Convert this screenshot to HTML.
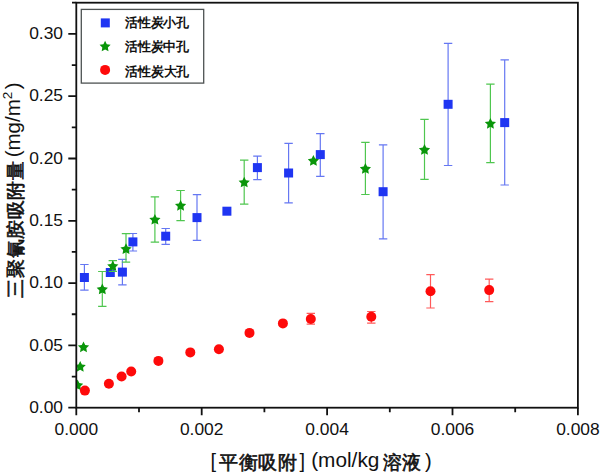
<!DOCTYPE html>
<html><head><meta charset="utf-8"><style>
html,body{margin:0;padding:0;background:#fff;}
svg{display:block;}
text{font-family:"Liberation Sans",sans-serif;}
</style></head><body>
<svg width="600" height="473" viewBox="0 0 600 473">
<rect width="600" height="473" fill="#fff"/>
<defs><clipPath id="pc"><rect x="76.3" y="2.7" width="501.60" height="405.00"/></clipPath></defs>
<g clip-path="url(#pc)">
<path d="M84.4,264.5V290.2M80.2,264.5H88.60000000000001M80.2,290.2H88.60000000000001" stroke="#6577f2" stroke-width="1.2" fill="none"/>
<rect x="79.90" y="273.00" width="9" height="9" fill="#1f35f2"/>
<rect x="105.80" y="268.00" width="9" height="9" fill="#1f35f2"/>
<path d="M122.4,259.4V284.8M118.2,259.4H126.60000000000001M118.2,284.8H126.60000000000001" stroke="#6577f2" stroke-width="1.2" fill="none"/>
<rect x="117.90" y="267.60" width="9" height="9" fill="#1f35f2"/>
<path d="M132.9,233.5V251.0M128.70000000000002,233.5H137.1M128.70000000000002,251.0H137.1" stroke="#6577f2" stroke-width="1.2" fill="none"/>
<rect x="128.40" y="237.40" width="9" height="9" fill="#1f35f2"/>
<path d="M165.7,228.5V244.3M161.5,228.5H169.89999999999998M161.5,244.3H169.89999999999998" stroke="#6577f2" stroke-width="1.2" fill="none"/>
<rect x="161.20" y="231.70" width="9" height="9" fill="#1f35f2"/>
<path d="M197.0,194.7V240.4M192.8,194.7H201.2M192.8,240.4H201.2" stroke="#6577f2" stroke-width="1.2" fill="none"/>
<rect x="192.50" y="213.10" width="9" height="9" fill="#1f35f2"/>
<rect x="222.40" y="206.70" width="9" height="9" fill="#1f35f2"/>
<path d="M257.4,156.2V179.6M253.2,156.2H261.59999999999997M253.2,179.6H261.59999999999997" stroke="#6577f2" stroke-width="1.2" fill="none"/>
<rect x="252.90" y="163.10" width="9" height="9" fill="#1f35f2"/>
<path d="M288.6,143.3V202.8M284.40000000000003,143.3H292.8M284.40000000000003,202.8H292.8" stroke="#6577f2" stroke-width="1.2" fill="none"/>
<rect x="284.10" y="168.50" width="9" height="9" fill="#1f35f2"/>
<path d="M320.3,133.7V176.3M316.1,133.7H324.5M316.1,176.3H324.5" stroke="#6577f2" stroke-width="1.2" fill="none"/>
<rect x="315.80" y="150.10" width="9" height="9" fill="#1f35f2"/>
<path d="M383.1,144.8V238.9M378.90000000000003,144.8H387.3M378.90000000000003,238.9H387.3" stroke="#6577f2" stroke-width="1.2" fill="none"/>
<rect x="378.60" y="187.20" width="9" height="9" fill="#1f35f2"/>
<path d="M448.1,43.4V165.5M443.90000000000003,43.4H452.3M443.90000000000003,165.5H452.3" stroke="#6577f2" stroke-width="1.2" fill="none"/>
<rect x="443.60" y="99.80" width="9" height="9" fill="#1f35f2"/>
<path d="M504.7,59.9V185.0M500.5,59.9H508.9M500.5,185.0H508.9" stroke="#6577f2" stroke-width="1.2" fill="none"/>
<rect x="500.20" y="118.10" width="9" height="9" fill="#1f35f2"/>
<polygon points="77.60,379.60 79.33,383.11 83.21,383.68 80.41,386.41 81.07,390.27 77.60,388.45 74.13,390.27 74.79,386.41 71.99,383.68 75.87,383.11" fill="#0a960a"/>
<polygon points="80.20,361.00 81.93,364.51 85.81,365.08 83.01,367.81 83.67,371.67 80.20,369.85 76.73,371.67 77.39,367.81 74.59,365.08 78.47,364.51" fill="#0a960a"/>
<polygon points="83.50,341.50 85.23,345.01 89.11,345.58 86.31,348.31 86.97,352.17 83.50,350.35 80.03,352.17 80.69,348.31 77.89,345.58 81.77,345.01" fill="#0a960a"/>
<path d="M102.3,271.5V306.4M98.1,271.5H106.5M98.1,306.4H106.5" stroke="#4fc64f" stroke-width="1.2" fill="none"/>
<polygon points="102.30,283.60 104.03,287.11 107.91,287.68 105.11,290.41 105.77,294.27 102.30,292.45 98.83,294.27 99.49,290.41 96.69,287.68 100.57,287.11" fill="#0a960a"/>
<path d="M112.8,260.7V271.5M108.6,260.7H117.0M108.6,271.5H117.0" stroke="#4fc64f" stroke-width="1.2" fill="none"/>
<polygon points="112.80,260.40 114.53,263.91 118.41,264.48 115.61,267.21 116.27,271.07 112.80,269.25 109.33,271.07 109.99,267.21 107.19,264.48 111.07,263.91" fill="#0a960a"/>
<path d="M126.0,233.7V262.2M121.8,233.7H130.2M121.8,262.2H130.2" stroke="#4fc64f" stroke-width="1.2" fill="none"/>
<polygon points="126.00,243.30 127.73,246.81 131.61,247.38 128.81,250.11 129.47,253.97 126.00,252.15 122.53,253.97 123.19,250.11 120.39,247.38 124.27,246.81" fill="#0a960a"/>
<path d="M154.9,196.9V242.1M150.70000000000002,196.9H159.1M150.70000000000002,242.1H159.1" stroke="#4fc64f" stroke-width="1.2" fill="none"/>
<polygon points="154.90,213.90 156.63,217.41 160.51,217.98 157.71,220.71 158.37,224.57 154.90,222.75 151.43,224.57 152.09,220.71 149.29,217.98 153.17,217.41" fill="#0a960a"/>
<path d="M180.6,190.5V220.6M176.4,190.5H184.79999999999998M176.4,220.6H184.79999999999998" stroke="#4fc64f" stroke-width="1.2" fill="none"/>
<polygon points="180.60,200.00 182.33,203.51 186.21,204.08 183.41,206.81 184.07,210.67 180.60,208.85 177.13,210.67 177.79,206.81 174.99,204.08 178.87,203.51" fill="#0a960a"/>
<path d="M244.2,160.1V204.1M240.0,160.1H248.39999999999998M240.0,204.1H248.39999999999998" stroke="#4fc64f" stroke-width="1.2" fill="none"/>
<polygon points="244.20,176.70 245.93,180.21 249.81,180.78 247.01,183.51 247.67,187.37 244.20,185.55 240.73,187.37 241.39,183.51 238.59,180.78 242.47,180.21" fill="#0a960a"/>
<polygon points="313.40,155.10 315.13,158.61 319.01,159.18 316.21,161.91 316.87,165.77 313.40,163.95 309.93,165.77 310.59,161.91 307.79,159.18 311.67,158.61" fill="#0a960a"/>
<path d="M365.4,142.3V194.5M361.2,142.3H369.59999999999997M361.2,194.5H369.59999999999997" stroke="#4fc64f" stroke-width="1.2" fill="none"/>
<polygon points="365.40,163.10 367.13,166.61 371.01,167.18 368.21,169.91 368.87,173.77 365.40,171.95 361.93,173.77 362.59,169.91 359.79,167.18 363.67,166.61" fill="#0a960a"/>
<path d="M424.5,119.3V179.4M420.3,119.3H428.7M420.3,179.4H428.7" stroke="#4fc64f" stroke-width="1.2" fill="none"/>
<polygon points="424.50,144.10 426.23,147.61 430.11,148.18 427.31,150.91 427.97,154.77 424.50,152.95 421.03,154.77 421.69,150.91 418.89,148.18 422.77,147.61" fill="#0a960a"/>
<path d="M490.4,84.1V162.7M486.2,84.1H494.59999999999997M486.2,162.7H494.59999999999997" stroke="#4fc64f" stroke-width="1.2" fill="none"/>
<polygon points="490.40,118.00 492.13,121.51 496.01,122.08 493.21,124.81 493.87,128.67 490.40,126.85 486.93,128.67 487.59,124.81 484.79,122.08 488.67,121.51" fill="#0a960a"/>
<circle cx="84.9" cy="390.6" r="5" fill="#fe0a0a"/>
<circle cx="108.9" cy="383.8" r="5" fill="#fe0a0a"/>
<circle cx="121.6" cy="376.5" r="5" fill="#fe0a0a"/>
<circle cx="131.2" cy="371.5" r="5" fill="#fe0a0a"/>
<circle cx="158.4" cy="360.9" r="5" fill="#fe0a0a"/>
<circle cx="190.3" cy="352.4" r="5" fill="#fe0a0a"/>
<circle cx="218.9" cy="349.3" r="5" fill="#fe0a0a"/>
<circle cx="249.5" cy="332.9" r="5" fill="#fe0a0a"/>
<circle cx="282.9" cy="323.4" r="5" fill="#fe0a0a"/>
<path d="M310.8,313.3V324.2M306.6,313.3H315.0M306.6,324.2H315.0" stroke="#ff5a5a" stroke-width="1.2" fill="none"/>
<circle cx="310.8" cy="319.0" r="5" fill="#fe0a0a"/>
<path d="M371.3,311.5V323.2M367.1,311.5H375.5M367.1,323.2H375.5" stroke="#ff5a5a" stroke-width="1.2" fill="none"/>
<circle cx="371.3" cy="316.8" r="5" fill="#fe0a0a"/>
<path d="M430.5,274.7V308.0M426.3,274.7H434.7M426.3,308.0H434.7" stroke="#ff5a5a" stroke-width="1.2" fill="none"/>
<circle cx="430.5" cy="291.2" r="5" fill="#fe0a0a"/>
<path d="M489.2,279.2V301.6M485.0,279.2H493.4M485.0,301.6H493.4" stroke="#ff5a5a" stroke-width="1.2" fill="none"/>
<circle cx="489.2" cy="290.1" r="5" fill="#fe0a0a"/>
</g>
<rect x="76.3" y="2.7" width="501.60" height="405.00" fill="none" stroke="#111" stroke-width="1.8"/>
<path d="M76.30,407.7V415.2M139.00,407.7V412.2M201.70,407.7V415.2M264.40,407.7V412.2M327.10,407.7V415.2M389.80,407.7V412.2M452.50,407.7V415.2M515.20,407.7V412.2M577.90,407.7V415.2M76.3,407.70H68.3M76.3,376.55H71.8M76.3,345.40H68.3M76.3,314.25H71.8M76.3,283.10H68.3M76.3,251.95H71.8M76.3,220.80H68.3M76.3,189.65H71.8M76.3,158.50H68.3M76.3,127.35H71.8M76.3,96.20H68.3M76.3,65.05H71.8M76.3,33.90H68.3M72,2.7H76.3" stroke="#111" stroke-width="1.8" fill="none"/>
<g font-size="17.4" fill="#111"><text x="76.30" y="434.6" text-anchor="middle">0.000</text><text x="201.70" y="434.6" text-anchor="middle">0.002</text><text x="327.10" y="434.6" text-anchor="middle">0.004</text><text x="452.50" y="434.6" text-anchor="middle">0.006</text><text x="577.90" y="434.6" text-anchor="middle">0.008</text><text x="63" y="412.90" text-anchor="end">0.00</text><text x="63" y="350.60" text-anchor="end">0.05</text><text x="63" y="288.30" text-anchor="end">0.10</text><text x="63" y="226.00" text-anchor="end">0.15</text><text x="63" y="163.70" text-anchor="end">0.20</text><text x="63" y="101.40" text-anchor="end">0.25</text><text x="63" y="39.10" text-anchor="end">0.30</text></g>
<rect x="81.3" y="9.4" width="122.4" height="73.7" fill="#fff" stroke="#4d5252" stroke-width="1.3"/>
<rect x="100.8" y="18.4" width="9" height="9" fill="#1f35f2"/>
<polygon points="105.10,40.80 106.80,44.25 110.62,44.81 107.86,47.50 108.51,51.29 105.10,49.50 101.69,51.29 102.34,47.50 99.58,44.81 103.40,44.25" fill="#0a960a"/>
<circle cx="105.1" cy="69.9" r="5" fill="#fe0a0a"/>
<g font-size="13" font-weight="bold" fill="#111" letter-spacing="-0.25">
<text x="125" y="27">活性炭小孔</text>
<text x="125" y="51">活性炭中孔</text>
<text x="125.3" y="75.6">活性炭大孔</text>
</g>
<g transform="rotate(-90)" fill="#111">
<text x="-297.5" y="21.5" font-size="19" stroke="#111" stroke-width="0.6" letter-spacing="0.6">三聚氰胺吸附量</text>
<text x="-157.3" y="20.4" font-size="20.5">(mg/m<tspan font-size="13.5" dy="-8.5">2</tspan><tspan dy="8.5" dx="2.5">)</tspan></text>
</g>
<g fill="#111">
<text x="210.5" y="467.5" font-size="20">[</text>
<text x="219.2" y="469" font-size="19" stroke="#111" stroke-width="0.6" letter-spacing="0.6">平衡吸附</text>
<text x="299.5" y="467.5" font-size="20">]</text>
<text x="311.2" y="466.5" font-size="20.8">(mol/kg</text>
<text x="382.8" y="469" font-size="19" stroke="#111" stroke-width="0.6" letter-spacing="0.6">溶液</text>
<text x="425" y="468" font-size="20">)</text>
</g>
</svg>
</body></html>
